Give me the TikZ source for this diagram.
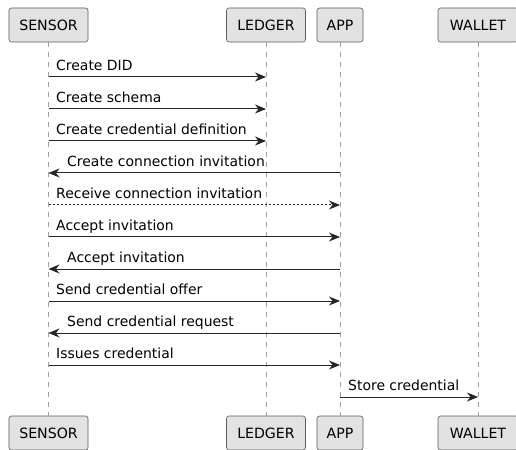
\documentclass[tikz,border=0pt]{standalone}
\usepackage{fontspec}
\setmainfont{DejaVu Sans}
\usepackage{tikz}
\usepackage{xcolor}
\usetikzlibrary{arrows.meta}

\definecolor{actorfill}{HTML}{E2E2E2}
\definecolor{actorline}{HTML}{5A5A5A}

\tikzset{
  actor/.style={draw=actorline, fill=actorfill, line width=0.6bp, rounded corners=2.5bp,
    minimum height=34bp, inner sep=0pt, font=\fontsize{14.2}{17}\selectfont},
  lifeline/.style={draw=gray!75, line width=0.6bp, dash pattern=on 5bp off 5bp},
  msg/.style={draw=black!85, line width=1bp, -{Stealth[length=11bp,width=9bp,inset=3.5bp]}},
  reply/.style={msg, dash pattern=on 2bp off 2bp},
  lbl/.style={inner sep=0pt, font=\fontsize{14}{17}\selectfont}
}

\begin{document}
\begin{tikzpicture}[x=1bp,y=-1bp]
\useasboundingbox (0,0) rectangle (516,450);
% participants
\node[actor, minimum width=79bp] (sensorTop) at (48.5,25) {SENSOR};
\node[actor, minimum width=79bp] (ledgerTop) at (266,25) {LEDGER};
\node[actor, minimum width=46bp] (appTop) at (340,25) {APP};
\node[actor, minimum width=80bp] (walletTop) at (478,25) {WALLET};
\node[actor, minimum width=79bp] (sensorBot) at (48.5,433) {SENSOR};
\node[actor, minimum width=79bp] (ledgerBot) at (266,433) {LEDGER};
\node[actor, minimum width=46bp] (appBot) at (340,433) {APP};
\node[actor, minimum width=80bp] (walletBot) at (478,433) {WALLET};
% lifelines
\draw[lifeline] (sensorTop) -- (sensorBot);
\draw[lifeline] (ledgerTop) -- (ledgerBot);
\draw[lifeline] (appTop) -- (appBot);
\draw[lifeline] (walletTop) -- (walletBot);
% message ends
\coordinate (s1) at (48.5,77);  \coordinate (l1) at (266,77);
\coordinate (s2) at (48.5,109); \coordinate (l2) at (266,109);
\coordinate (s3) at (48.5,141); \coordinate (l3) at (266,141);
\coordinate (s4) at (48.5,173); \coordinate (a4) at (340,173);
\coordinate (s5) at (48.5,205); \coordinate (a5) at (340,205);
\coordinate (s6) at (48.5,237); \coordinate (a6) at (340,237);
\coordinate (s7) at (48.5,269); \coordinate (a7) at (340,269);
\coordinate (s8) at (48.5,301); \coordinate (a8) at (340,301);
\coordinate (s9) at (48.5,333); \coordinate (a9) at (340,333);
\coordinate (s10) at (48.5,365); \coordinate (a10) at (340,365);
\coordinate (a11) at (340,397); \coordinate (w11) at (478,397);
% messages
\draw[msg] (s1) -- (l1);
\node[lbl, anchor=base west] (t1) at (56,70.7) {Create DID};
\draw[msg] (s2) -- (l2);
\node[lbl, anchor=base west] (t2) at (56,102.7) {Create schema};
\draw[msg] (s3) -- (l3);
\node[lbl, anchor=base west] (t3) at (56,134.7) {Create credential definition};
\draw[msg] (a4) -- (s4);
\node[lbl, anchor=base west] (t4) at (67,166.7) {Create connection invitation};
\draw[reply] (s5) -- (a5);
\node[lbl, anchor=base west] (t5) at (56,198.7) {Receive connection invitation};
\draw[msg] (s6) -- (a6);
\node[lbl, anchor=base west] (t6) at (56,230.7) {Accept invitation};
\draw[msg] (a7) -- (s7);
\node[lbl, anchor=base west] (t7) at (67,262.7) {Accept invitation};
\draw[msg] (s8) -- (a8);
\node[lbl, anchor=base west] (t8) at (56,294.7) {Send credential offer};
\draw[msg] (a9) -- (s9);
\node[lbl, anchor=base west] (t9) at (67,326.7) {Send credential request};
\draw[msg] (s10) -- (a10);
\node[lbl, anchor=base west] (t10) at (56,358.7) {Issues credential};
\draw[msg] (a11) -- (w11);
\node[lbl, anchor=base west] (t11) at (348,390.7) {Store credential};
\end{tikzpicture}
\end{document}
